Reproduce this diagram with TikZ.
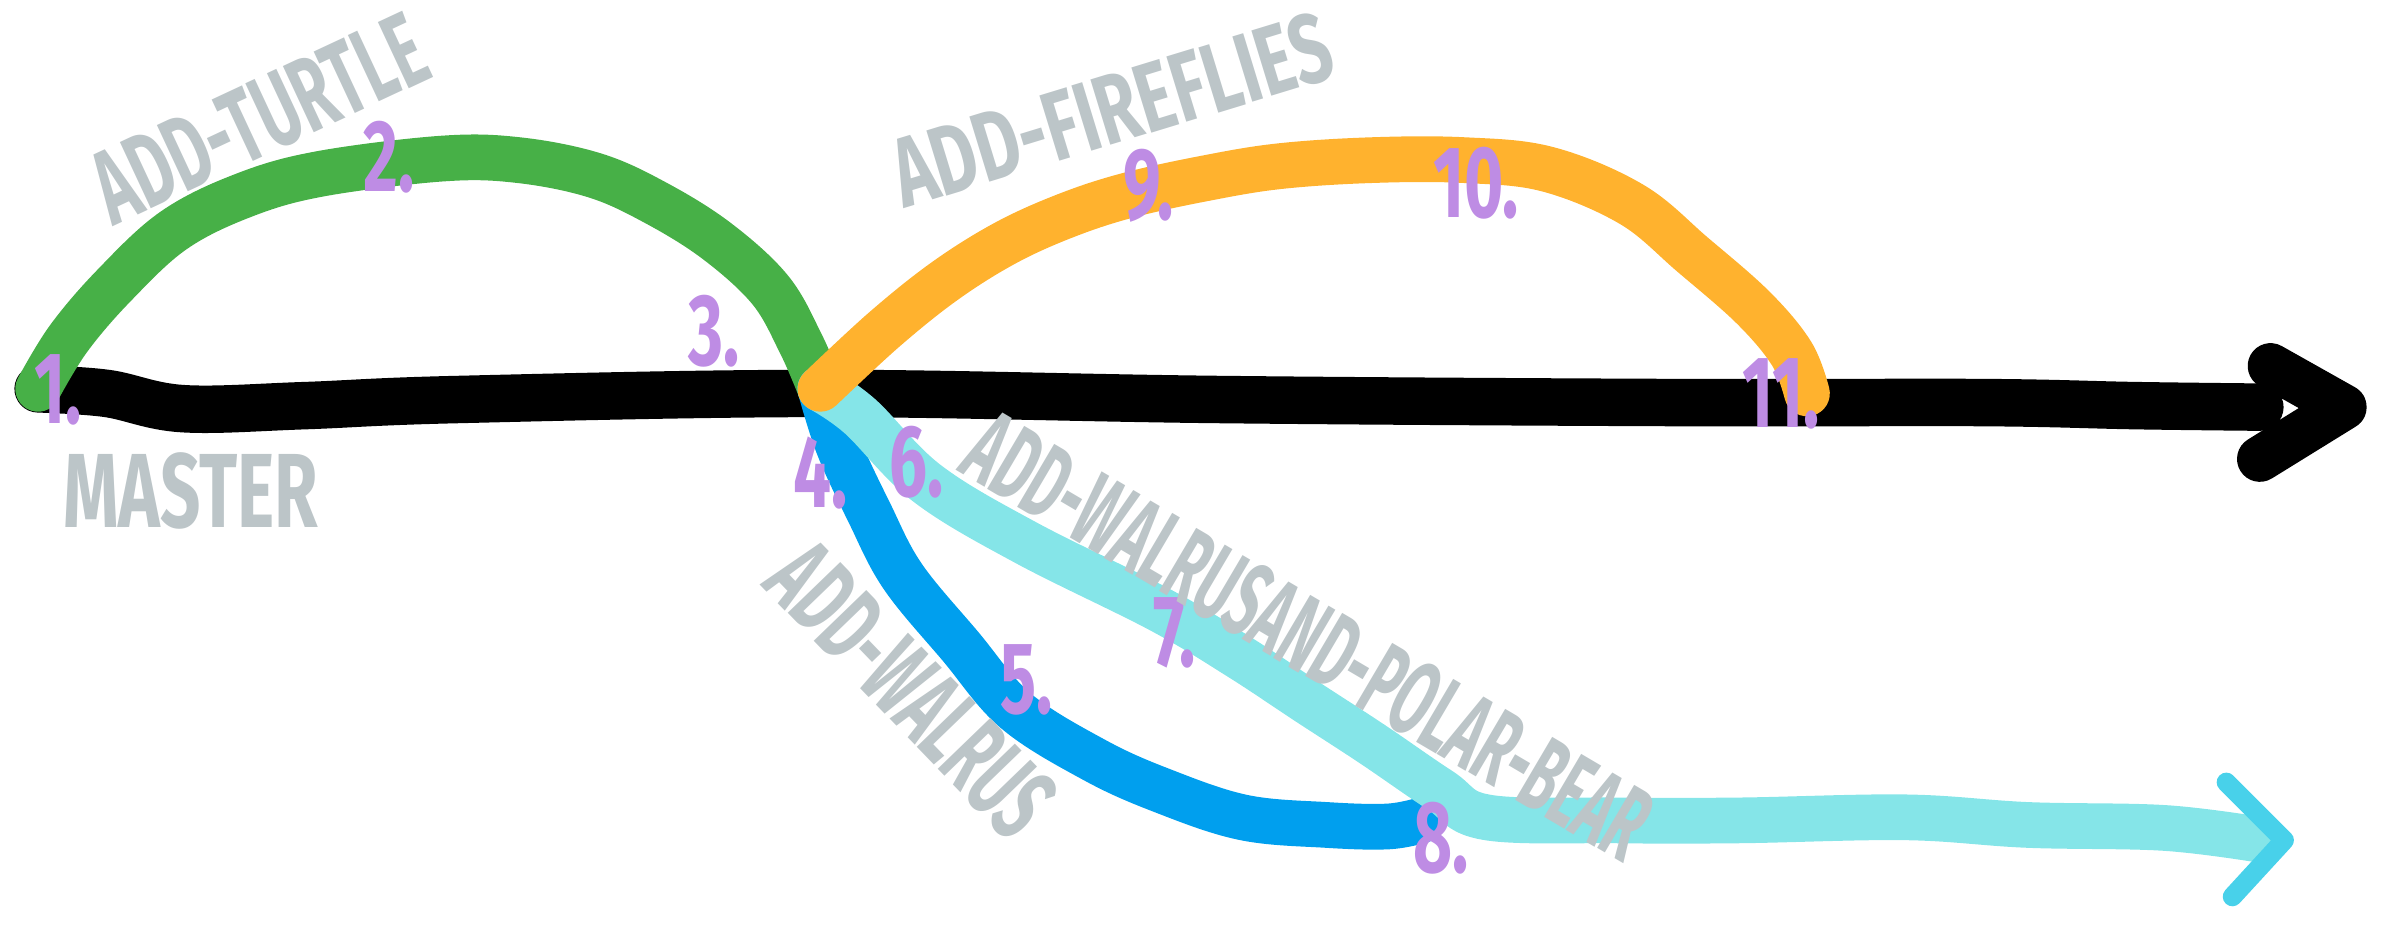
\documentclass[tikz,border=0pt]{standalone}
\usepackage{fontspec}
\newfontfamily\handfont{Fira Sans}
\definecolor{brblack}{RGB}{0,0,0}
\definecolor{brgreen}{RGB}{71,176,71}
\definecolor{brorange}{RGB}{255,178,46}
\definecolor{brblue}{RGB}{0,159,238}
\definecolor{brcyan}{RGB}{133,229,232}
\definecolor{brcyandark}{RGB}{72,209,234}
\definecolor{brpurple}{RGB}{190,140,228}
\definecolor{brgray}{RGB}{188,197,200}

\begin{document}
\begin{tikzpicture}[x=0.01525cm,y=-0.01525cm,line cap=round,line join=round,
    branch/.style={line width=13pt},
    commit/.style={text=brpurple,inner sep=0pt,font=\handfont\addfontfeature{FakeStretch=0.66}\bfseries\fontsize{29}{29}\selectfont},
    brlabel/.style={text=brgray,inner sep=0pt,font=\handfont\addfontfeature{FakeStretch=#1}\bfseries\fontsize{30}{30}\selectfont},
    brlabel/.default=0.55]
    \useasboundingbox (0,0) rectangle (1568,611);
    % commits where branches meet
    \coordinate (c1) at (25,255);
    \coordinate (c3) at (538,255);
    \coordinate (c8) at (944,518);
    \coordinate (c11) at (1185,258);
    \coordinate (mend) at (1482,267);
    \coordinate (tip) at (1537,267);
    \coordinate (wend) at (1484,551);
    \coordinate (wtip) at (1498,551);

    % master
    \draw[brblack,line width=13.5pt] plot[smooth,tension=0.6] coordinates {(c1) (70,258) (120,268) (200,266) (300,262) (540,258) (800,262) (1100,264) (1300,264) (1400,266) (mend)};
    \draw[brblack,line width=13pt] (1489,240) -- (tip) -- (1482,301);
    % add-turtle
    \draw[branch,brgreen] plot[smooth,tension=0.6] coordinates {(c1) (45,222) (75,187) (114,151) (160,128) (210,114) (290,104) (340,105) (390,115) (430,133) (470,158) (505,190) (525,225) (c3)};
    % add-walrus
    \draw[branch,brblue] plot[smooth,tension=0.6] coordinates {(c3) (550,293) (570,336) (592,378) (630,424) (666,466) (717,498) (761,518) (815,536) (870,541) (910,542) (932,538)};
    % add-walrus-and-polar-bear
    \draw[branch,brcyan] plot[smooth,tension=0.6] coordinates {(c3) (564,273) (608,317) (673,356) (761,400) (813,431) (857,460) (900,488) (c8) (975,536) (1060,538) (1141,538) (1250,536) (1330,541) (1420,543) (wend)};
    \draw[brcyandark,line width=5.5pt] (1460,513) -- (wtip) -- (1464,588);
    % add-fireflies
    \draw[branch,brorange] plot[smooth,tension=0.6] coordinates {(c3) (580,216) (620,184) (660,159) (700,141) (740,128) (790,117) (839,109) (900,105) (960,105) (1015,111) (1070,134) (1110,167) (1150,202) (1175,232) (c11)};

    % commit numbers
    \node[commit] (n1) at (38,256) {1.};
    \node[commit] (n2) at (255,103) {2.};
    \node[commit] (n3) at (468,217) {3.};
    \node[commit] (n4) at (538,310) {4.};
    \node[commit] (n5) at (673,446) {5.};
    \node[commit] (n6) at (601,303) {6.};
    \node[commit] (n7) at (770,415) {7.};
    \node[commit] (n8) at (945,550) {8.};
    \node[commit] (n9) at (753,122) {9.};
    \node[commit] (n10) at (968,120) {10.};
    \node[commit] (n11) at (1168,258) {11.};

    % branch names
    \node[brlabel=0.67] (master) at (125,322) {MASTER};
    \node[brlabel=0.6,rotate=25] (turtle) at (170,78) {ADD-TURTLE};
    \node[brlabel,rotate=17,font=\handfont\addfontfeature{FakeStretch=0.7}\bfseries\fontsize{28}{28}\selectfont] (fireflies) at (729,72) {ADD-FIREFLIES};
    \node[brlabel=0.56,rotate=-46] (walrus) at (598,452) {ADD-WALRUS};
    \node[brlabel=0.52,rotate=-30.5] (polarbear) at (858,417) {ADD-WALRUSAND-POLAR-BEAR};
\end{tikzpicture}
\end{document}
